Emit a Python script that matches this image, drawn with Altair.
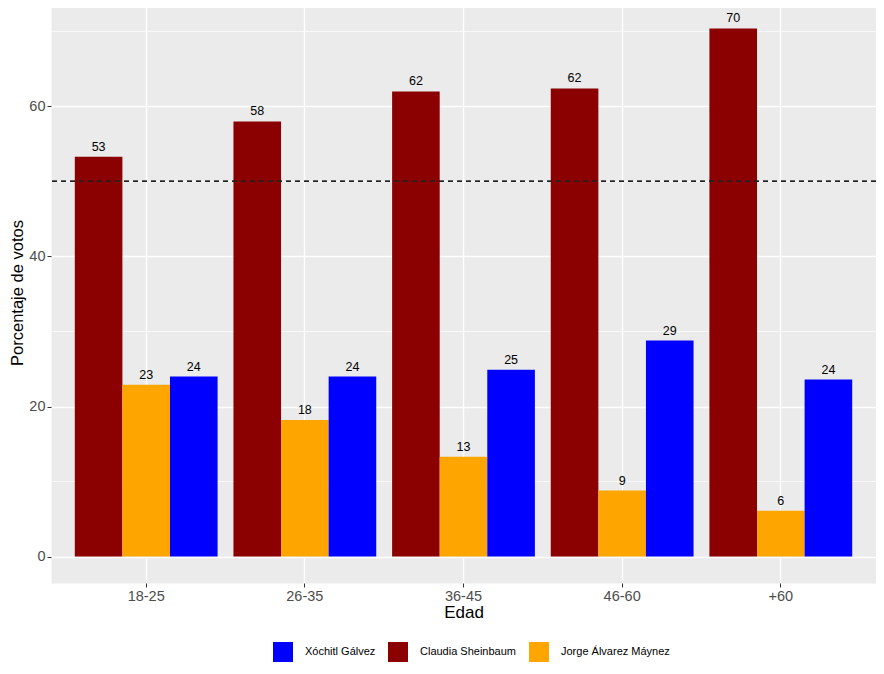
import altair as alt
import pandas as pd

edades = ["18-25", "26-35", "36-45", "46-60", "+60"]
candidatos = ["Xóchitl Gálvez", "Claudia Sheinbaum", "Jorge Álvarez Máynez"]
orden_barras = ["Claudia Sheinbaum", "Jorge Álvarez Máynez", "Xóchitl Gálvez"]
colores = ["#0000FF", "#8B0000", "#FFA500"]
claudia = [53.3, 58.0, 62.0, 62.4, 70.4]
jorge = [22.9, 18.2, 13.3, 8.8, 6.1]
xochitl = [24.0, 24.0, 24.9, 28.8, 23.6]
mayoria = 50
y_ticks = [0, 20, 40, 60]
y_minor = [10, 30, 50, 70]

rows = []
for i, e in enumerate(edades):
    rows.append({"Edad": e, "Candidato": "Claudia Sheinbaum", "Porcentaje": claudia[i]})
    rows.append({"Edad": e, "Candidato": "Jorge Álvarez Máynez", "Porcentaje": jorge[i]})
    rows.append({"Edad": e, "Candidato": "Xóchitl Gálvez", "Porcentaje": xochitl[i]})
df = pd.DataFrame(rows)
df_minor = pd.DataFrame({"Porcentaje": y_minor})

FONT = "Liberation Sans"

y_scale = alt.Scale(domain=[-3.52, 73.92], nice=False, zero=False)

x_axis = alt.Axis(
    title="Edad",
    labelAngle=0,
    grid=True,
    gridColor="white",
    gridWidth=1.4,
    bandPosition=0.5,
    domain=False,
    tickColor="#333333",
    tickSize=4,
    tickWidth=1,
    labelFontSize=14.5,
    labelColor="#4D4D4D",
    labelPadding=2,
    titleFontSize=17,
    titleFontWeight="normal",
    titleColor="black",
    titlePadding=2,
)
y_axis = alt.Axis(
    values=y_ticks,
    format="d",
    title="Porcentaje de votos",
    grid=True,
    gridColor="white",
    gridWidth=1.4,
    domain=False,
    tickColor="#333333",
    tickSize=4,
    tickWidth=1,
    labelFontSize=14.5,
    labelColor="#4D4D4D",
    labelPadding=2,
    titleFontSize=16.5,
    titleFontWeight="normal",
    titleColor="black",
    titlePadding=3,
)

x_enc = alt.X(
    "Edad:N",
    sort=edades,
    scale=alt.Scale(paddingInner=0.1, paddingOuter=0.15),
    axis=x_axis,
)
xoff_enc = alt.XOffset(
    "Candidato:N", sort=orden_barras, scale=alt.Scale(paddingInner=0, paddingOuter=0)
)
y_enc = alt.Y("Porcentaje:Q", scale=y_scale, axis=y_axis)

minor = alt.Chart(df_minor).mark_rule(color="white", strokeWidth=0.7).encode(
    y=y_enc
)

bars = alt.Chart(df).mark_bar().encode(
    x=x_enc,
    xOffset=xoff_enc,
    y=y_enc,
    color=alt.Color(
        "Candidato:N",
        scale=alt.Scale(domain=candidatos, range=colores),
        legend=alt.Legend(
            title=None,
            orient="none",
            legendX=222,
            legendY=640,
            direction="horizontal",
            symbolType="square",
            symbolSize=400,
            symbolStrokeWidth=0,
            symbolOpacity=1,
            labelFontSize=11,
            labelColor="black",
            labelOffset=12,
            columnPadding=12,
        ),
    ),
)

linea = alt.Chart(df_minor).mark_rule(
    color="#222222", strokeWidth=1.3, strokeDash=[5, 4]
).encode(y=alt.datum(mayoria, scale=y_scale, axis=y_axis))

textos = alt.Chart(df).mark_text(
    baseline="alphabetic", dy=-6, fontSize=12.5, color="black", font=FONT
).encode(
    x=x_enc,
    xOffset=xoff_enc,
    y=y_enc,
    text=alt.Text("Porcentaje:Q", format=".0f"),
)

chart = (
    alt.layer(minor, bars, linea, textos)
    .properties(
        width=825,
        height=581,
        autosize=alt.AutoSizeParams(type="none"),
        padding={"left": 43, "top": -6, "right": 0, "bottom": 80},
        background="white",
    )
    .configure(font=FONT)
    .configure_view(fill="#EBEBEB", stroke="transparent")
)

chart.save("out.html", embed_options={"renderer": "svg", "actions": False})
